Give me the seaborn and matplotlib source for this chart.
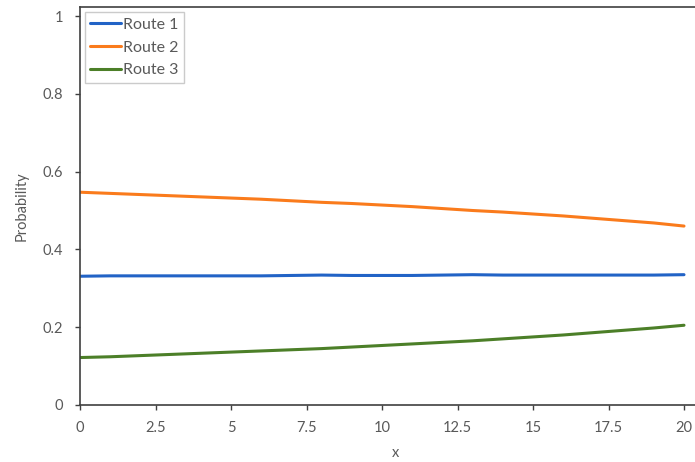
import matplotlib
matplotlib.use("Agg")
import matplotlib.pyplot as plt
import seaborn as sns
import pandas as pd

x = list(range(21))
route1 = [0.331, 0.332, 0.332, 0.332, 0.332, 0.332, 0.332, 0.333, 0.334, 0.333, 0.333,
          0.333, 0.334, 0.335, 0.334, 0.334, 0.334, 0.334, 0.334, 0.334, 0.335]
route2 = [0.547, 0.544, 0.541, 0.538, 0.535, 0.532, 0.529, 0.525, 0.521, 0.518, 0.514,
          0.510, 0.505, 0.500, 0.496, 0.491, 0.486, 0.480, 0.474, 0.468, 0.460]
route3 = [0.122, 0.124, 0.127, 0.130, 0.133, 0.136, 0.139, 0.142, 0.145, 0.149, 0.153,
          0.157, 0.161, 0.165, 0.170, 0.175, 0.180, 0.186, 0.192, 0.198, 0.205]
series_names = ["Route 1", "Route 2", "Route 3"]
xticks = [0, 2.5, 5, 7.5, 10, 12.5, 15, 17.5, 20]
xtick_labels = ["0", "2.5", "5", "7.5", "10", "12.5", "15", "17.5", "20"]
yticks = [0, 0.2, 0.4, 0.6, 0.8, 1]
ytick_labels = ["0", "0.2", "0.4", "0.6", "0.8", "1"]

df = pd.DataFrame({"x": x * 3,
                   "p": route1 + route2 + route3,
                   "Route": [series_names[0]] * 21 + [series_names[1]] * 21 + [series_names[2]] * 21})

sns.set_style("white")
plt.rcParams["font.family"] = ["Lato", "DejaVu Sans"]

fig = plt.figure(figsize=(6.95, 4.62), dpi=100)
# axes extend slightly past the right edge of the figure (cropped frame)
ax = fig.add_axes([80 / 695, 1 - 405 / 462, (710 - 80) / 695, (405 - 7) / 462])
palette = {"Route 1": "#2263C6", "Route 2": "#FA7B1C", "Route 3": "#4C7F28"}
sns.lineplot(data=df, x="x", y="p", hue="Route", palette=palette, linewidth=2.2, ax=ax)

ax.set_xlim(0, 630 / 30.2)
ax.set_ylim(0, 398 / 389)
ax.set_xticks(xticks)
ax.set_xticklabels(xtick_labels)
ax.set_yticks(yticks)
ax.set_yticklabels(ytick_labels)
ax.tick_params(axis="both", direction="out", length=3.5, width=1, color="#404040",
               labelsize=10.5, labelcolor="#595959", bottom=True, left=True)
ax.tick_params(axis="y", pad=8.5)
ax.tick_params(axis="x", pad=8)
ax.set_xlabel("x", fontsize=10.5, color="#595959", labelpad=8)
ax.set_ylabel("Probability", fontsize=10.5, color="#595959", labelpad=10)
for s in ["left", "bottom", "top"]:
    ax.spines[s].set_color("#404040")
    ax.spines[s].set_linewidth(1.2)
ax.spines["right"].set_visible(False)

leg = ax.legend(loc="upper left", fontsize=11.5, frameon=True, fancybox=False,
                edgecolor="#BFBFBF", handlelength=1.9, handletextpad=0.15,
                borderaxespad=0.3, labelspacing=0.55, borderpad=0.35)
leg.get_frame().set_linewidth(1.0)
for t in leg.get_texts():
    t.set_color("#595959")

fig.savefig("out.png", dpi=100)
